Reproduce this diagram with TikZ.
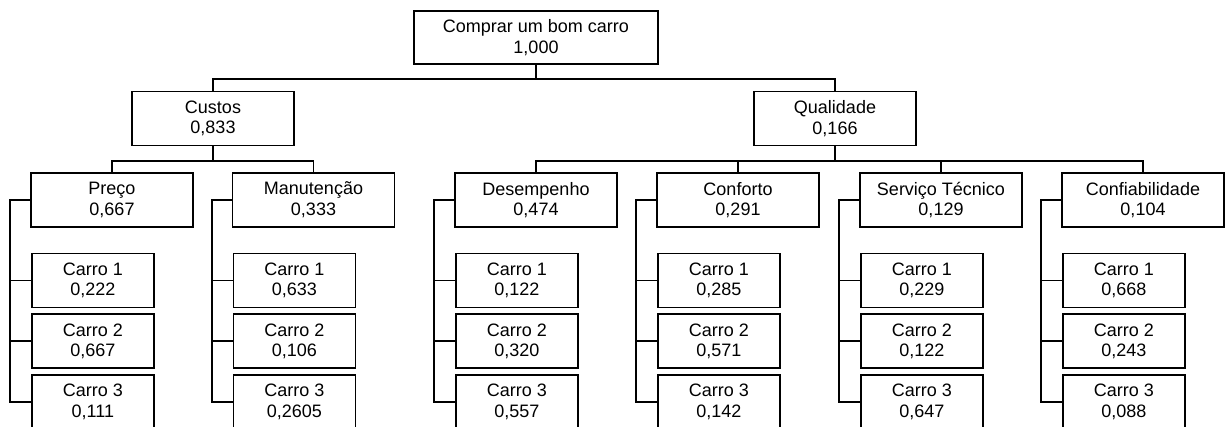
\documentclass[tikz,border=0pt]{standalone}
\usepackage{fontspec}
\setmainfont{Liberation Sans}
\begin{document}
\begin{tikzpicture}[x=1pt,y=-1pt,
  box/.style={draw, line width=1.8pt, inner sep=0pt, align=center,
              font=\fontsize{18}{20.7}\selectfont},
  goal/.style={box, minimum width=244pt, minimum height=53pt},
  crit/.style={box, minimum width=162pt, minimum height=54pt},
  alt/.style={box, minimum width=122pt, minimum height=54pt, anchor=west},
  link/.style={line width=1.8pt}]
\clip (0,0) rectangle (1229,427);

% goal
\node[goal] (root) at (536,37.5) {Comprar um bom carro\\1,000};

% criteria
\node[crit] (cus) at (213,118.5) {Custos\\0,833};
\node[crit] (qua) at (835,118.5) {Qualidade\\0,166};

% sub-criteria
\node[crit] (pre) at (112,200) {Preço\\0,667};
\node[crit] (man) at (313.5,200) {Manutenção\\0,333};
\node[crit] (des) at (536,200) {Desempenho\\0,474};
\node[crit] (con) at (738,200) {Conforto\\0,291};
\node[crit] (ser) at (941,200) {Serviço Técnico\\0,129};
\node[crit] (cnf) at (1143,200) {Confiabilidade\\0,104};

% alternatives
\node[alt] (pre1) at (31,280.5) {Carro 1\\0,222};
\node[alt] (pre2) at (31,341.3) {Carro 2\\0,667};
\node[alt] (pre3) at (31,402) {Carro 3\\0,111};

\node[alt] (man1) at (232.5,280.5) {Carro 1\\0,633};
\node[alt] (man2) at (232.5,341.3) {Carro 2\\0,106};
\node[alt] (man3) at (232.5,402) {Carro 3\\0,2605};

\node[alt] (des1) at (455,280.5) {Carro 1\\0,122};
\node[alt] (des2) at (455,341.3) {Carro 2\\0,320};
\node[alt] (des3) at (455,402) {Carro 3\\0,557};

\node[alt] (con1) at (657,280.5) {Carro 1\\0,285};
\node[alt] (con2) at (657,341.3) {Carro 2\\0,571};
\node[alt] (con3) at (657,402) {Carro 3\\0,142};

\node[alt] (ser1) at (860,280.5) {Carro 1\\0,229};
\node[alt] (ser2) at (860,341.3) {Carro 2\\0,122};
\node[alt] (ser3) at (860,402) {Carro 3\\0,647};

\node[alt] (cnf1) at (1062,280.5) {Carro 1\\0,668};
\node[alt] (cnf2) at (1062,341.3) {Carro 2\\0,243};
\node[alt] (cnf3) at (1062,402) {Carro 3\\0,088};

% tree connectors
\draw[link] (root.south) -- ++(0,14) coordinate (r0) -| (cus.north);
\draw[link] (r0) -| (qua.north);

\draw[link] (cus.south) -- ++(0,14.5) coordinate (c0) -| (pre.north);
\draw[link] (c0) -| (man.north);

\draw[link] (qua.south) -- ++(0,14.5) coordinate (q0) -| (des.north);
\draw[link] (q0) -| (con.north);
\draw[link] (q0) -| (ser.north);
\draw[link] (q0) -| (cnf.north);

% brackets to the alternatives
\foreach \s in {pre,man,des,con,ser,cnf}{
  \draw[link] (\s.west) -- ++(-20,0) coordinate (\s B) |- (\s3.west);
  \draw[link] (\s B) |- (\s1.west);
  \draw[link] (\s B) |- (\s2.west);
}
\end{tikzpicture}
\end{document}
